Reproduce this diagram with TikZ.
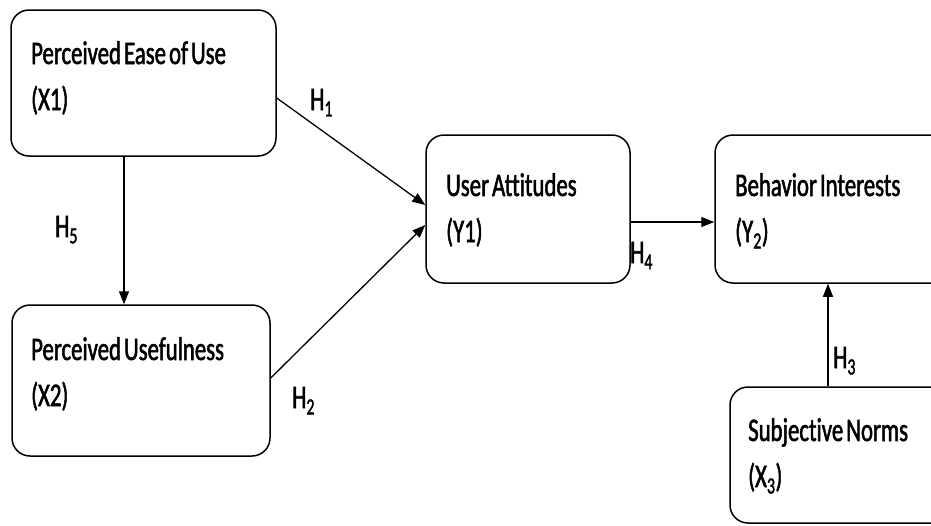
\documentclass[tikz,border=0pt]{standalone}
\usepackage{fontspec}
\setmainfont{Carlito}[FakeStretch=0.69,FakeBold=1.6,Ligatures=NoCommon,WordSpace=0.6]
\usetikzlibrary{arrows.meta}
\begin{document}
\begin{tikzpicture}[x=1pt,y=-1pt,
  box/.style={draw,line width=1.5pt,rounded corners=18pt,inner sep=0pt},
  txt/.style={anchor=base west,inner sep=0pt,font=\fontsize{33}{36}\selectfont},
  conn/.style={line width=1.3pt,-{Triangle[length=13pt,width=10pt]}}]
\useasboundingbox (0,0) rectangle (931,525);
\clip (0,0) rectangle (931,525);
% boxes
\node[box,minimum width=265pt,minimum height=146pt] (x1) at (143.5,83) {};
\node[box,minimum width=258pt,minimum height=151pt] (x2) at (141,380.5) {};
\node[box,minimum width=204pt,minimum height=148pt] (y1) at (528,209) {};
\node[box,minimum width=235pt,minimum height=148pt] (y2) at (832.5,209) {};
\node[box,minimum width=230pt,minimum height=136pt] (x3) at (845,455) {};
% box texts
\node[txt] (t1a) at (31,64) {Perceived Ease of Use};
\node[txt] (t1b) at (31,110) {(X1)};
\node[txt] (t2a) at (31,360) {Perceived Usefulness};
\node[txt] (t2b) at (31,406) {(X2)};
\node[txt] (t3a) at (446,196) {User Attitudes};
\node[txt] (t3b) at (446,242) {(Y1)};
\node[txt] (t4a) at (735,196) {Behavior Interests};
\node[txt] (t4b) at (735,242) {(Y\textsubscript{2})};
\node[txt] (t5a) at (748,441) {Subjective Norms};
\node[txt] (t5b) at (748,487) {(X\textsubscript{3})};
% connectors
\draw[conn] ([xshift=-19.5pt]x1.south) -- ([xshift=-17pt]x2.north);
\draw[conn] ([yshift=-15pt]x1.east) -- ([yshift=4pt]y1.west);
\draw[conn] ([yshift=2.5pt]x2.east) -- ([yshift=-16pt]y1.west);
\draw[conn] ([yshift=-13pt]y1.east) -- ([yshift=-13pt]y2.west);
\draw[conn] ([xshift=-17pt]x3.north) -- ([xshift=-17pt]x3.north |- y2.south);
% hypothesis labels
\node[txt] (h1) at (310,110) {H\textsubscript{1}};
\node[txt] (h5) at (55,237) {H\textsubscript{5}};
\node[txt] (h2) at (292,408) {H\textsubscript{2}};
\node[txt] (h4) at (630,263) {H\textsubscript{4}};
\node[txt] (h3) at (833,368) {H\textsubscript{3}};
\end{tikzpicture}
\end{document}
